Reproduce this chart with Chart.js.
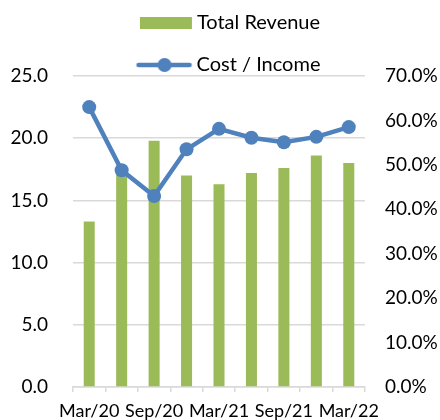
<!DOCTYPE html>
<html>
<head>
<meta charset="utf-8">
<script src="https://cdn.jsdelivr.net/npm/chart.js@4.4.1/dist/chart.umd.min.js"></script>
<style>
  body { margin: 0; background: #fff; }
  #wrap { width: 440px; height: 420px; }
</style>
</head>
<body>
<div id="wrap"><canvas id="revChart" width="440" height="420"></canvas></div>
<script>
// quarters (only every other one gets a visible tick label)
const quarters = ["Mar/20", "Jun/20", "Sep/20", "Dec/20", "Mar/21", "Jun/21", "Sep/21", "Dec/21", "Mar/22"];
const totalRevenue = [13.3, 17.3, 19.8, 17.0, 16.3, 17.2, 17.6, 18.6, 18.0];
const costIncome = [0.630, 0.488, 0.430, 0.535, 0.581, 0.561, 0.551, 0.563, 0.585];

const green = "#9BBB59";
const blue = "#4F81BD";
const fontFamily = "Lato, 'Open Sans', sans-serif";

// legend swatches: wider than the legend box so each item is wide
// enough to force two legend rows; the swatch sits at the right end
const SWATCH_W = 79;

function makeRectSwatch() {
  const c = document.createElement("canvas");
  c.width = SWATCH_W;
  c.height = 12;
  const g = c.getContext("2d");
  g.fillStyle = green;
  g.fillRect(SWATCH_W - 53, 0, 52, 12);
  return c;
}

function makeLineSwatch() {
  const c = document.createElement("canvas");
  c.width = SWATCH_W;
  c.height = 16;
  const g = c.getContext("2d");
  g.strokeStyle = blue;
  g.lineWidth = 4.5;
  g.lineCap = "round";
  g.beginPath();
  g.moveTo(SWATCH_W - 54, 8);
  g.lineTo(SWATCH_W - 3, 8);
  g.stroke();
  g.fillStyle = blue;
  g.beginPath();
  g.arc(SWATCH_W - 28, 8, 7, 0, Math.PI * 2);
  g.fill();
  return c;
}

const swatches = [makeRectSwatch(), makeLineSwatch()];

const ctx = document.getElementById("revChart").getContext("2d");

new Chart(ctx, {
  data: {
    labels: quarters,
    datasets: [
      {
        type: "bar",
        label: "Total Revenue",
        data: totalRevenue,
        backgroundColor: green,
        yAxisID: "y",
        order: 2,
        categoryPercentage: 1.0,
        barPercentage: 0.34,
      },
      {
        type: "line",
        label: "Cost / Income",
        data: costIncome,
        borderColor: blue,
        backgroundColor: blue,
        borderWidth: 4.5,
        pointRadius: 7,
        pointBackgroundColor: blue,
        pointBorderWidth: 0,
        tension: 0,
        yAxisID: "y1",
        order: 1,
      },
    ],
  },
  options: {
    responsive: false,
    animation: false,
    layout: {
      padding: { top: -9, left: 0, right: 0, bottom: 0 },
    },
    plugins: {
      tooltip: { enabled: false },
      legend: {
        display: true,
        position: "top",
        maxHeight: 85,
        labels: {
          usePointStyle: true,
          pointStyleWidth: 67,
          padding: 22,
          color: "#000",
          font: { family: fontFamily, size: 20 },
          generateLabels: (chart) =>
            chart.data.datasets.map((ds, i) => ({
              text: ds.label,
              pointStyle: swatches[i],
              fillStyle: ds.backgroundColor,
              strokeStyle: ds.backgroundColor,
              lineWidth: 0,
              hidden: false,
              datasetIndex: i,
            })),
        },
      },
    },
    scales: {
      x: {
        grid: {
          offset: true,
          drawOnChartArea: false,
          drawTicks: true,
          tickLength: 5,
          color: "#d9d9d9",
          lineWidth: 1.5,
        },
        border: { display: true, color: "#d9d9d9", width: 1.5 },
        ticks: {
          autoSkip: false,
          maxRotation: 0,
          padding: 8,
          color: "#000",
          font: { family: fontFamily, size: 18 },
          callback: (val, i) => (i % 2 === 0 ? quarters[i] : ""),
        },
        afterFit: (s) => {
          s.height = 33;
        },
      },
      y: {
        position: "left",
        min: 0,
        max: 25,
        ticks: {
          stepSize: 5,
          padding: 0,
          color: "#000",
          font: { family: fontFamily, size: 19 },
          callback: (v) => v.toFixed(1),
        },
        // invisible tick marks give the gap between labels and plot
        grid: {
          color: "#d9d9d9",
          lineWidth: 1.5,
          drawTicks: true,
          tickLength: 25,
          tickColor: "rgba(0,0,0,0)",
        },
        border: { display: false },
        afterFit: (s) => {
          s.width = 73;
        },
      },
      y1: {
        position: "right",
        min: 0,
        max: 0.7,
        ticks: {
          stepSize: 0.1,
          padding: 0,
          color: "#000",
          font: { family: fontFamily, size: 19 },
          callback: (v) => (v * 100).toFixed(1) + "%",
        },
        grid: {
          drawOnChartArea: false,
          drawTicks: true,
          tickLength: 20,
          tickColor: "rgba(0,0,0,0)",
        },
        border: { display: false },
        afterFit: (s) => {
          s.width = 75;
        },
      },
    },
  },
});
</script>
</body>
</html>
